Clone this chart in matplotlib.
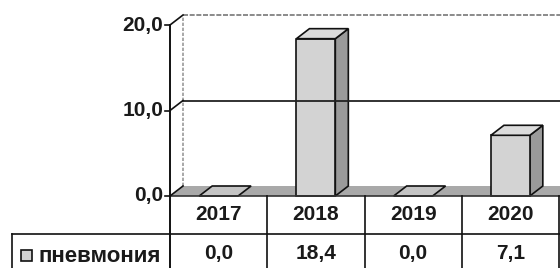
import matplotlib
matplotlib.use('Agg')
import matplotlib.pyplot as plt
from matplotlib.patches import Polygon, Rectangle
from matplotlib.lines import Line2D

# data
years = ['2017', '2018', '2019', '2020']
values = [0.0, 18.4, 0.0, 7.1]
series_name = 'пневмония'
yticks = [0, 10, 20]

def fmt(v):
    return ('%.1f' % v).replace('.', ',')

W, H = 560, 268
fig = plt.figure(figsize=(W / 100, H / 100), dpi=100)
plt.rcParams['font.family'] = ['Liberation Sans', 'DejaVu Sans']
txt = dict(fontsize=15, color='#1a1a1a', fontweight='bold')

# pixel helpers (y measured from the top)
def fy(py):
    return 1 - py / H

def fx(px):
    return px / W

ax_l, ax_r, ax_b, ax_t = 170, 559, 196, 25
ax = fig.add_axes([fx(ax_l), fy(ax_b), (ax_r - ax_l) / W, (ax_b - ax_t) / H])
n = len(years)
ax.set_xlim(-0.5, n - 0.5)
ax.set_ylim(0, 20)
ax.axis('off')

# depth offset of the 3d look, in data units
depth_px = (13, 10)
dx = depth_px[0] / ((ax_r - ax_l) / n)
dy = depth_px[1] / ((ax_b - ax_t) / 20)

ymax = 20
x0, x1 = -0.5, n - 0.5 + 1

# back wall
ax.plot([x0 + dx, x1 + dx], [ymax + dy, ymax + dy], color='#777777', lw=1.2,
        ls=(0, (3, 1)), clip_on=False)
ax.plot([x0 + dx, x0 + dx], [dy, ymax + dy], color='#999999', lw=1.2,
        ls=(0, (2, 1)), clip_on=False)
for t in yticks[1:-1]:
    ax.plot([x0 + dx, x1 + dx], [t + dy, t + dy], color='#222222', lw=1.3, clip_on=False)

# floor
floor = Polygon([(x0, 0), (x1, 0), (x1 + dx, dy), (x0 + dx, dy)], closed=True,
                facecolor='#a9a9a9', edgecolor='none', clip_on=False)
ax.add_patch(floor)
ax.plot([x0, x1], [0, 0], color='#333333', lw=1.2, clip_on=False)

# y axis with slanted ticks
ax.plot([x0, x0], [0, ymax], color='#111111', lw=1.4, clip_on=False)
for t in yticks:
    ax.plot([x0, x0 + dx], [t, t + dy], color='#111111', lw=1.2, clip_on=False)
    ax.plot([x0 - 0.05, x0], [t, t], color='#111111', lw=1.2, clip_on=False)
    ax.text(x0 - 0.07, t, fmt(t), ha='right', va='center', **txt)

# bars
bw = 0.4
for i, v in enumerate(values):
    l, r = i - bw / 2, i + bw / 2
    ec = '#111111'
    if v > 0:
        ax.add_patch(Polygon([(r, 0), (r + dx, dy), (r + dx, v + dy), (r, v)], closed=True,
                             facecolor='#9a9a9a', edgecolor=ec, lw=1.2, clip_on=False))
        ax.add_patch(Rectangle((l, 0), bw, v, facecolor='#d3d3d3', edgecolor=ec, lw=1.2,
                               clip_on=False))
        top_c = '#dcdcdc'
    else:
        top_c = '#c4c4c4'
    ax.add_patch(Polygon([(l, v), (r, v), (r + dx, v + dy), (l + dx, v + dy)], closed=True,
                         facecolor=top_c, edgecolor=ec, lw=1.2, clip_on=False))

# data table
row1_top, row1_bot, row2_bot = ax_b, 234, H + 5
tr = fig.transFigure
def col_x(i):
    return fx(ax_l + (ax_r - ax_l) * i / n)

fig.add_artist(Line2D([fx(ax_l), fx(ax_l)], [fy(ax_b), fy(row2_bot)], color='#111111', lw=1.4))
for i in range(1, n + 1):
    fig.add_artist(Line2D([col_x(i), col_x(i)], [fy(row1_top), fy(row2_bot)],
                          color='#111111', lw=1.2))
fig.add_artist(Line2D([fx(12), fx(W + 5)], [fy(row1_bot), fy(row1_bot)], color='#111111', lw=1.2))
fig.add_artist(Line2D([fx(12), fx(12)], [fy(row1_bot), fy(row2_bot)], color='#111111', lw=1.2))

for i, (yr, v) in enumerate(zip(years, values)):
    cx = (col_x(i) + col_x(i + 1)) / 2
    fig.text(cx, fy(214), yr, ha='center', va='center', **txt)
    fig.text(cx, fy(253), fmt(v), ha='center', va='center', **txt)

fig.add_artist(Rectangle((fx(21), fy(261)), 11 / W, 11 / H, transform=tr,
                         facecolor='#d3d3d3', edgecolor='#111111', lw=1.2))
fig.text(fx(39), fy(256), series_name, ha='left', va='center',
         **{**txt, 'fontsize': 16})

plt.savefig('out.png', dpi=100)
